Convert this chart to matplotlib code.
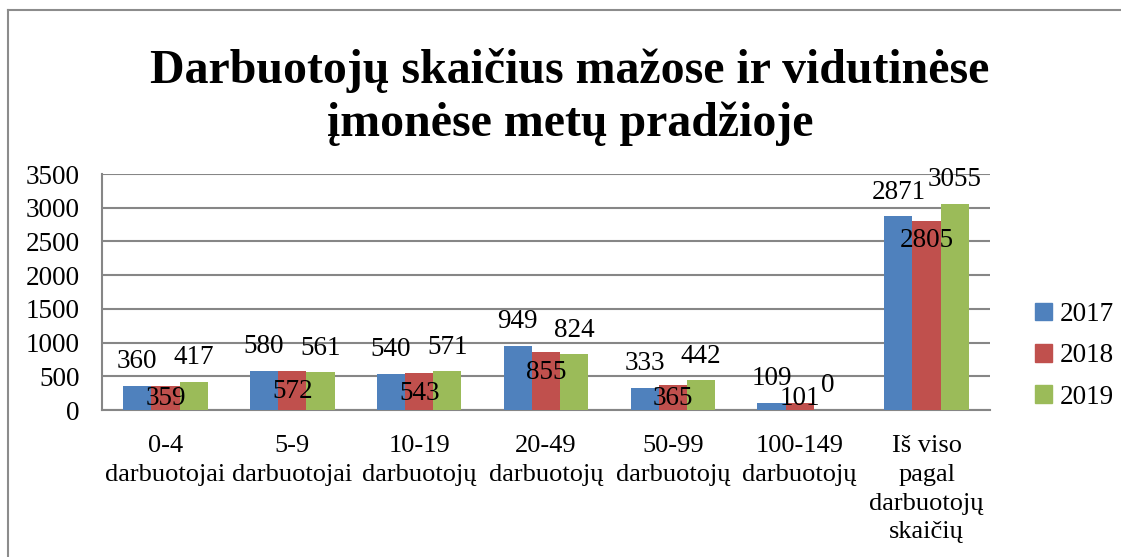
import matplotlib
matplotlib.use("Agg")
import matplotlib.pyplot as plt
from matplotlib.lines import Line2D
import numpy as np

categories = ["0-4\ndarbuotojai", "5-9\ndarbuotojai", "10-19\ndarbuotojų",
              "20-49\ndarbuotojų", "50-99\ndarbuotojų", "100-149\ndarbuotojų",
              "Iš viso\npagal\ndarbuotojų\nskaičių"]
years = ["2017", "2018", "2019"]
v2017 = [360, 580, 540, 949, 333, 109, 2871]
v2018 = [359, 572, 543, 855, 365, 101, 2805]
v2019 = [417, 561, 571, 824, 442, 0, 3055]
colors = ["#4F81BD", "#C0504D", "#9BBB59"]
title = "Darbuotojų skaičius mažose ir vidutinėse\nįmonėse metų pradžioje"

plt.rcParams['font.family'] = ['Liberation Serif', 'DejaVu Serif']
FS = 19.5

fig = plt.figure(figsize=(11.21, 5.57), dpi=100)
ax = fig.add_axes([102/1121, 1-410/557, (990-102)/1121, (410-174)/557])

x = np.arange(len(categories))
w = 1/4.5
series = [v2017, v2018, v2019]
grid_c = "#868686"
for i, (vals, c) in enumerate(zip(series, colors)):
    pos = x + (i-1)*w
    ax.bar(pos, vals, width=w, color=c, edgecolor="none", zorder=3)
    for px, v in zip(pos, vals):
        if i == 1:
            ax.annotate(str(v), xy=(px, max(v, 460)), xytext=(0, -14.4),
                        textcoords="offset points", ha="center", va="center",
                        fontsize=FS, zorder=5)
        else:
            ax.annotate(str(v), xy=(px, v), xytext=(0, 17.3),
                        textcoords="offset points", ha="center", va="center",
                        fontsize=FS, zorder=5)

ax.set_xlim(-0.5, len(categories)-0.5)
ax.set_ylim(0, 3500)
ax.set_yticks(np.arange(0, 3501, 500))
ax.yaxis.grid(True, color=grid_c, linewidth=1.5, zorder=0)
ax.set_axisbelow(True)
ax.tick_params(axis='y', length=0, pad=16, labelsize=FS)
ax.set_xticks(x)
ax.set_xticklabels(categories, fontsize=19, linespacing=1.4, va="top")
ax.tick_params(axis='x', length=0, pad=18)
for s in ["top", "right"]:
    ax.spines[s].set_visible(False)
for s in ["left", "bottom"]:
    ax.spines[s].set_color(grid_c)
    ax.spines[s].set_linewidth(1.5)

handles = [plt.Rectangle((0, 0), 1, 1, color=c) for c in colors]
fig.legend(handles, years, loc="center left", bbox_to_anchor=(1024/1121, 1-356/557),
           frameon=False, fontsize=FS, handlelength=0.62, handleheight=0.62,
           handletextpad=0.3, labelspacing=0.6, borderaxespad=0)

fig.text(570/1121, 1-97/557, title, ha="center", va="center", fontsize=34.5,
         fontweight="bold", linespacing=1.22)

# chart area border
fig.add_artist(Line2D([8/1121, 8/1121], [0, 1-10/557], transform=fig.transFigure,
                      color="#8c8c8c", linewidth=1.5))
fig.add_artist(Line2D([8/1121, 1], [1-10/557, 1-10/557], transform=fig.transFigure,
                      color="#8c8c8c", linewidth=1.5))

fig.savefig("out.png", dpi=100)
